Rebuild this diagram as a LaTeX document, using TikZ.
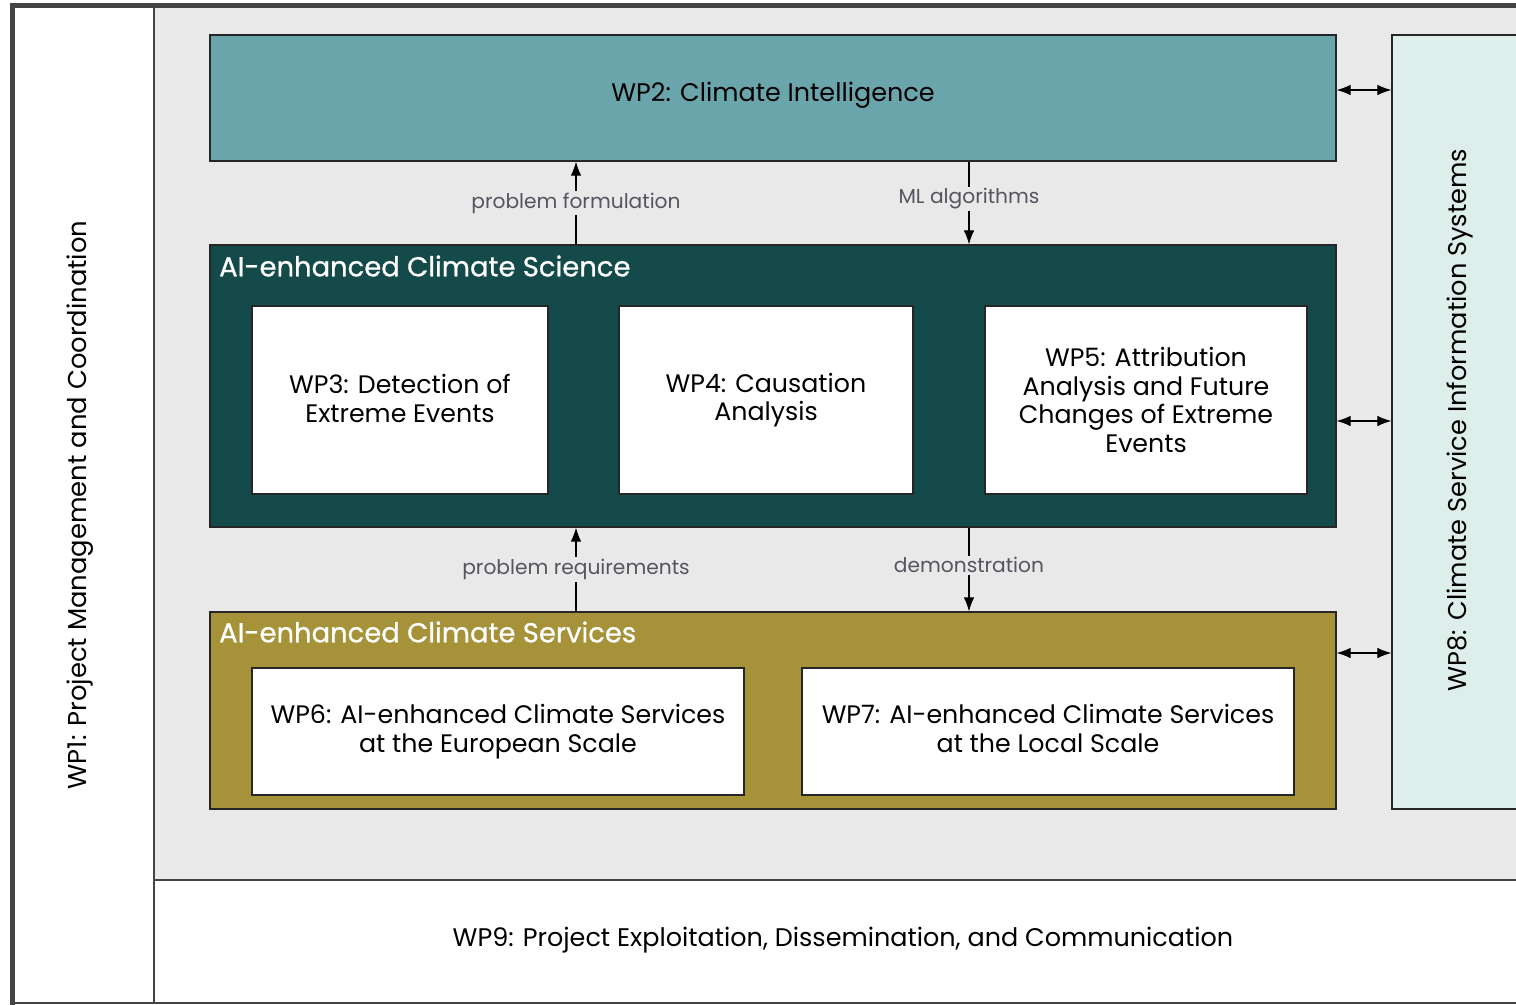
\documentclass[tikz,border=0pt]{standalone}
\usepackage{fontspec}
\setmainfont{Poppins}
\newfontfamily\headfont{Poppins}[FakeBold=0.8]
\usetikzlibrary{arrows.meta,positioning}

\definecolor{wpteal}{RGB}{107,165,172}
\definecolor{wpdark}{RGB}{20,74,74}
\definecolor{wpolive}{RGB}{166,146,57}
\definecolor{wpmint}{RGB}{222,238,235}
\definecolor{wpgray}{RGB}{233,233,233}
\definecolor{wpframe}{RGB}{68,68,68}
\definecolor{wplabel}{RGB}{85,85,95}

\begin{document}
\begin{tikzpicture}[x=0.02cm, y=-0.02cm, >={Latex[length=8pt,width=6pt]},
    sized/.style 2 args={minimum width=#1*0.02cm, minimum height=#2*0.02cm},
    wpbox/.style={draw=black!85, line width=0.7pt, rectangle, inner sep=0pt, align=center},
    inbox/.style={wpbox, fill=white, font=\fontsize{14.4}{16.2}\selectfont},
    heading/.style={anchor=west, text=white, font=\headfont\fontsize{15.6}{18}\selectfont},
    flowlbl/.style={fill=wpgray, text=wplabel, inner sep=1pt, font=\fontsize{11.5}{13}\selectfont},
    flow/.style={->, line width=0.6pt},
    link/.style={<->, line width=0.6pt}]
    \useasboundingbox (0,0) rectangle (1516,1005);
    \clip (0,0) rectangle (1516,1005);

    % 1. Nền: cột WP1, vùng xám và dải WP9
    \fill[white] (0,0) rectangle (1516,1005);
    \fill[wpgray] (154,8) rectangle (1530,880);
    \draw[wpframe, line width=1.2pt] (154,8) -- (154,1003);
    \draw[wpframe, line width=1.2pt] (154,880) -- (1530,880);
    \draw[wpframe, line width=0.9pt] (12,1003) -- (1530,1003);
    \draw[wpframe, line width=3pt] (12.5,1005) -- (12.5,5.5) -- (1530,5.5);

    \node[rotate=90, font=\fontsize{14.7}{17}\selectfont] (wp1) at (80,505) {WP1: Project Management and Coordination};
    \node[font=\fontsize{14.5}{17}\selectfont] (wp9) at (843,940) {WP9: Project Exploitation, Dissemination, and Communication};

    % 2. WP2 và WP8
    \node[wpbox, fill=wpteal, sized={1126}{126}] (wp2) at (773,98) {};
    \node[font=\fontsize{14.5}{17}\selectfont] (wp2t) at (773,95) {WP2: Climate Intelligence};
    \node[wpbox, fill=wpmint, sized={138}{774}] (wp8) at (1461,422) {};
    \node[rotate=90, font=\fontsize{14.6}{17}\selectfont] (wp8t) at (1460,420) {WP8: Climate Service Information Systems};

    % 3. Khối AI-enhanced Climate Science (WP3--WP5)
    \node[wpbox, fill=wpdark, sized={1126}{282}] (sci) at (773,386) {};
    \node[heading] (scit) at (213,266) {AI-enhanced Climate Science};
    \node[inbox, sized={296}{188}] (wp3) at (400,400) {WP3: Detection of\\Extreme Events\vspace{2pt}};
    \node[inbox, sized={294}{188}] (wp4) at (766,400) {WP4: Causation\\Analysis};
    \node[inbox, sized={322}{188}] (wp5) at (1146,400) {WP5: Attribution\\Analysis and Future\\Changes of Extreme\\Events};

    % 4. Khối AI-enhanced Climate Services (WP6--WP7)
    \node[wpbox, fill=wpolive, sized={1126}{197}] (serv) at (773,710.5) {};
    \node[heading] (servt) at (213,632) {AI-enhanced Climate Services};
    \node[inbox, sized={492}{127}] (wp6) at (498,731.5) {WP6: AI-enhanced Climate Services\\at the European Scale};
    \node[inbox, sized={492}{127}] (wp7) at (1048,731.5) {WP7: AI-enhanced Climate Services\\at the Local Scale\vphantom{p}};

    % 5. Các mũi tên giữa các khối
    \coordinate (up) at (576,0);
    \coordinate (down) at (969,0);
    \draw[flow] (sci.north -| up) -- (wp2.south -| up) node[midway, flowlbl] {problem formulation};
    \draw[flow] (wp2.south -| down) -- (sci.north -| down) node[pos=0.45, flowlbl] {ML algorithms};
    \draw[flow] (serv.north -| up) -- (sci.south -| up) node[midway, flowlbl] {problem requirements};
    \draw[flow] (sci.south -| down) -- (serv.north -| down) node[pos=0.45, flowlbl] {demonstration};

    % Liên kết hai chiều với WP8
    \draw[link] (wp2.east |- 0,90) -- (wp8.west |- 0,90);
    \draw[link] (sci.east |- 0,421) -- (wp8.west |- 0,421);
    \draw[link] (serv.east |- 0,653) -- (wp8.west |- 0,653);
\end{tikzpicture}
\end{document}
